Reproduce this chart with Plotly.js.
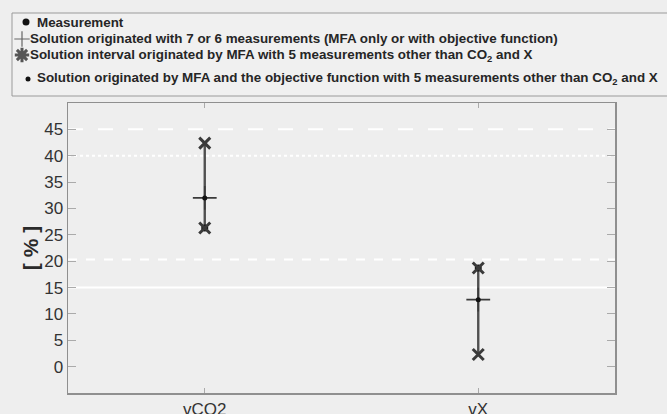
<!DOCTYPE html>
<html>
<head>
<meta charset="utf-8">
<script src="https://cdn.plot.ly/plotly-3.0.1.min.js"></script>
<style>html,body{margin:0;padding:0;background:#eeeeee;}#chart{width:667px;height:414px;}</style>
</head>
<body>
<div id="chart"></div>
<script>
// Data
const categories = ['vCO2', 'vX'];
const measurement = [26.3, 18.7];
const solution76 = [32.0, 12.7];
const intervalLow = [26.3, 2.3];
const intervalHigh = [42.4, 18.7];
const solutionObjective = [32.0, 12.7];
const yTicks = [0, 5, 10, 15, 20, 25, 30, 35, 40, 45];
const refLineValues = [45, 40, 20.3, 15];
const refLineDashes = ['longdash', 'dot', 'dash', 'solid'];

// Legend (drawn by hand to match the boxed legend of the original)
const legendLabels = [
  'Measurement',
  'Solution originated with 7 or 6 measurements (MFA only or with objective function)',
  'Solution interval originated by MFA with 5 measurements other than CO<sub>2</sub> and X',
  'Solution originated by MFA and the objective function with 5 measurements other than CO<sub>2</sub> and X'
];
const legendRowY = [22, 39, 55, 79];     // px from top
const legendSymbolX = [26, 22, 22, 28];  // px from left
const legendTextX = [35, 28, 28, 35];    // px from left

const W = 667, H = 414;
const PLOT = {left: 68, right: 615, top: 103, bottom: 393};
const LEG = {left: 12, right: 680, top: 13, bottom: 96};

const segX = [], segY = [];
categories.forEach((c, i) => {
  segX.push(c, c, null);
  segY.push(intervalLow[i], intervalHigh[i], null);
});

const symInterval = {symbol: 'x-thin-open', size: 11, color: '#3a3a3a', line: {color: '#3a3a3a', width: 3}};
const symCross = {symbol: 'cross-thin-open', size: 17, color: '#3a3a3a', line: {color: '#3a3a3a', width: 1.6}};
const symMeas = {symbol: 'circle', size: 7, color: '#111111'};
const symObj = {symbol: 'circle', size: 5, color: '#111111'};

const traces = [
  {x: segX, y: segY, mode: 'lines', line: {color: '#505050', width: 2.4}, hoverinfo: 'skip'},
  {x: categories, y: measurement, mode: 'markers', marker: symMeas},
  {x: categories, y: solution76, mode: 'markers', marker: symCross},
  {x: segX.filter(v => v !== null), y: segY.filter(v => v !== null), mode: 'markers', marker: symInterval},
  {x: categories, y: solutionObjective, mode: 'markers', marker: symObj},
  // legend keys
  {x: [legendSymbolX[0]], y: [legendRowY[0]], xaxis: 'x2', yaxis: 'y2', mode: 'markers', marker: symMeas},
  {x: [legendSymbolX[1]], y: [legendRowY[1]], xaxis: 'x2', yaxis: 'y2', mode: 'markers',
   marker: {symbol: 'cross-thin-open', size: 11, color: '#666666', line: {color: '#666666', width: 1.2}}},
  {x: [legendSymbolX[2]], y: [legendRowY[2]], xaxis: 'x2', yaxis: 'y2', mode: 'markers',
   marker: {symbol: 'asterisk-open', size: 12, color: '#555555', line: {color: '#555555', width: 3}}},
  {x: [legendSymbolX[3]], y: [legendRowY[3]], xaxis: 'x2', yaxis: 'y2', mode: 'markers', marker: symObj}
];

const shapes = refLineValues.map((v, i) => ({
  type: 'line', xref: 'x domain', yref: 'y', x0: 0, x1: 1, y0: v, y1: v,
  line: {color: '#ffffff', width: 2, dash: refLineDashes[i]}, layer: 'below'
}));
shapes.push({
  type: 'rect', xref: 'paper', yref: 'paper',
  x0: LEG.left / W, x1: LEG.right / W, y0: 1 - LEG.bottom / H, y1: 1 - LEG.top / H,
  line: {color: '#9a9a9a', width: 1}, fillcolor: '#f0f0f0', layer: 'below'
});

const fontFam = 'Liberation Sans, Arial, sans-serif';
const annotations = legendLabels.map((t, i) => ({
  xref: 'paper', yref: 'paper', x: legendTextX[i] / W, y: 1 - legendRowY[i] / H,
  xanchor: 'left', yanchor: 'middle', showarrow: false, text: '<b>' + t + '</b>',
  font: {family: fontFam, size: 13.4, color: '#262626'}
}));

const axisFont = {family: fontFam, size: 17, color: '#333333'};

const layout = {
  width: W, height: H,
  margin: {l: 0, r: 0, t: 0, b: 0, pad: 0},
  paper_bgcolor: '#eeeeee', plot_bgcolor: 'rgba(0,0,0,0)',
  font: {family: fontFam},
  showlegend: false,
  shapes: shapes,
  annotations: annotations,
  xaxis: {
    domain: [PLOT.left / W, PLOT.right / W],
    type: 'category', categoryorder: 'array', categoryarray: categories,
    range: [-0.5, 1.5], showgrid: false, zeroline: false,
    showline: true, mirror: 'ticks', linecolor: '#8f8f8f', linewidth: 1.5,
    ticks: 'inside', ticklen: 5, tickcolor: '#aaaaaa', tickfont: axisFont
  },
  yaxis: {
    domain: [1 - PLOT.bottom / H, 1 - PLOT.top / H],
    range: [-5, 50], tickvals: yTicks, showgrid: false, zeroline: false,
    showline: true, mirror: 'ticks', linecolor: '#8f8f8f', linewidth: 1.5,
    ticks: 'inside', ticklen: 8, tickcolor: '#aaaaaa', tickfont: axisFont,
    title: {text: '<b>[ % ]</b>', font: {family: fontFam, size: 21, color: '#2a2a2a'}, standoff: 0}
  },
  xaxis2: {domain: [0, 1], range: [0, W], visible: false, anchor: 'y2', fixedrange: true},
  yaxis2: {domain: [0, 1], range: [H, 0], visible: false, anchor: 'x2', fixedrange: true}
};

Plotly.newPlot('chart', traces, layout, {displayModeBar: false, staticPlot: true});
</script>
</body>
</html>
